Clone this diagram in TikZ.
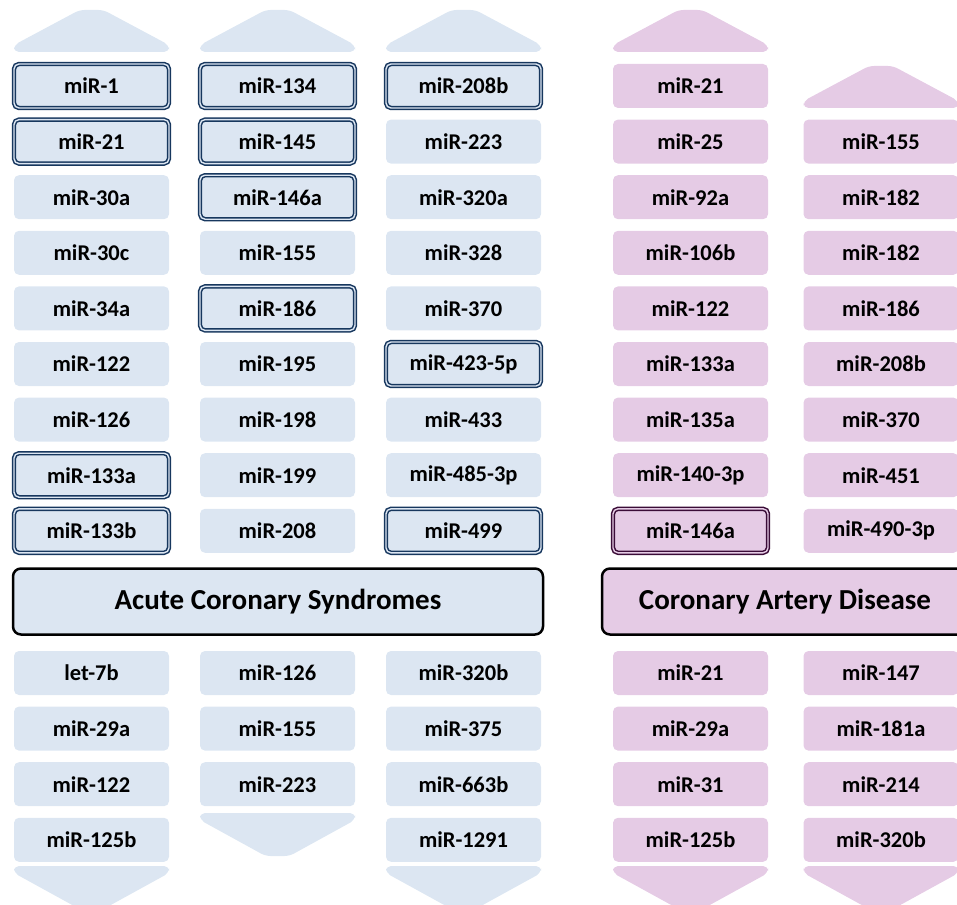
\documentclass[tikz,border=0pt]{standalone}
\usepackage{fontspec}
\setmainfont{Carlito}
\usetikzlibrary{positioning}

\definecolor{acsblue}{RGB}{220,230,242}
\definecolor{acsnavy}{RGB}{23,55,94}
\definecolor{cadpink}{RGB}{229,203,229}
\definecolor{cadplum}{RGB}{58,12,55}

\begin{document}
\begin{tikzpicture}[
    x=1pt, y=1pt,
    node distance=11.6pt, % vertical gap between miRNA boxes
    mirbox/.style={rectangle, fill=acsblue, rounded corners=5pt, minimum width=155pt, minimum height=44pt, outer sep=0pt, font=\fontsize{22.5}{26}\selectfont\bfseries},
    keybox/.style={mirbox, draw=acsnavy, line width=1.5pt, double=acsblue, double distance=1.4pt},
    cadbox/.style={mirbox, fill=cadpink},
    cadkeybox/.style={cadbox, draw=cadplum, line width=1.5pt, double=cadpink, double distance=1.4pt},
    groupbox/.style={rectangle, draw=black, line width=2.5pt, rounded corners=8pt, minimum height=66pt, outer sep=0pt, font=\fontsize{29}{34}\selectfont\bfseries},
    pics/uptip/.style={code={\fill[#1, rounded corners=5pt] (-77.5,0) -- (-77.5,7) -- (-12,42) -- (12,42) -- (77.5,7) -- (77.5,0) -- cycle;}},
    pics/downtip/.style={code={\fill[#1, rounded corners=5pt] (-77.5,0) -- (-77.5,-7) -- (-12,-43) -- (12,-43) -- (77.5,-7) -- (77.5,0) -- cycle;}}
]
\useasboundingbox (0,0) rectangle (957,-904);

% Disease groups
\node[groupbox, fill=acsblue, minimum width=530pt] (acs) at (278,-601.5) {Acute Coronary Syndromes};
\node[groupbox, fill=cadpink, minimum width=366pt] (cad) at (785,-601.5) {Coronary Artery Disease};

% ACS - upregulated, column 1
\node[keybox] (au1a) at (91.5,-86) {miR-1};
\node[keybox, below=of au1a] (au1b) {miR-21};
\node[mirbox, below=of au1b] (au1c) {miR-30a};
\node[mirbox, below=of au1c] (au1d) {miR-30c};
\node[mirbox, below=of au1d] (au1e) {miR-34a};
\node[mirbox, below=of au1e] (au1f) {miR-122};
\node[mirbox, below=of au1f] (au1g) {miR-126};
\node[keybox, below=of au1g] (au1h) {miR-133a};
\node[keybox, below=of au1h] (au1i) {miR-133b};

% ACS - upregulated, column 2
\node[keybox] (au2a) at (277.5,-86) {miR-134};
\node[keybox, below=of au2a] (au2b) {miR-145};
\node[keybox, below=of au2b] (au2c) {miR-146a};
\node[mirbox, below=of au2c] (au2d) {miR-155};
\node[keybox, below=of au2d] (au2e) {miR-186};
\node[mirbox, below=of au2e] (au2f) {miR-195};
\node[mirbox, below=of au2f] (au2g) {miR-198};
\node[mirbox, below=of au2g] (au2h) {miR-199};
\node[mirbox, below=of au2h] (au2i) {miR-208};

% ACS - upregulated, column 3
\node[keybox] (au3a) at (463.5,-86) {miR-208b};
\node[mirbox, below=of au3a] (au3b) {miR-223};
\node[mirbox, below=of au3b] (au3c) {miR-320a};
\node[mirbox, below=of au3c] (au3d) {miR-328};
\node[mirbox, below=of au3d] (au3e) {miR-370};
\node[keybox, below=of au3e] (au3f) {miR-423-5p};
\node[mirbox, below=of au3f] (au3g) {miR-433};
\node[mirbox, below=of au3g] (au3h) {miR-485-3p};
\node[keybox, below=of au3h] (au3i) {miR-499};

% ACS - downregulated
\node[mirbox] (ad1a) at (91.5,-673) {let-7b};
\node[mirbox, below=of ad1a] (ad1b) {miR-29a};
\node[mirbox, below=of ad1b] (ad1c) {miR-122};
\node[mirbox, below=of ad1c] (ad1d) {miR-125b};
\node[mirbox] (ad2a) at (277.5,-673) {miR-126};
\node[mirbox, below=of ad2a] (ad2b) {miR-155};
\node[mirbox, below=of ad2b] (ad2c) {miR-223};
\node[mirbox] (ad3a) at (463.5,-673) {miR-320b};
\node[mirbox, below=of ad3a] (ad3b) {miR-375};
\node[mirbox, below=of ad3b] (ad3c) {miR-663b};
\node[mirbox, below=of ad3c] (ad3d) {miR-1291};

% CAD - upregulated, column 4
\node[cadbox] (cu4a) at (690.5,-86) {miR-21};
\node[cadbox, below=of cu4a] (cu4b) {miR-25};
\node[cadbox, below=of cu4b] (cu4c) {miR-92a};
\node[cadbox, below=of cu4c] (cu4d) {miR-106b};
\node[cadbox, below=of cu4d] (cu4e) {miR-122};
\node[cadbox, below=of cu4e] (cu4f) {miR-133a};
\node[cadbox, below=of cu4f] (cu4g) {miR-135a};
\node[cadbox, below=of cu4g] (cu4h) {miR-140-3p};
\node[cadkeybox, below=of cu4h] (cu4i) {miR-146a};

% CAD - upregulated, column 5
\node[cadbox] (cu5b) at (881,-141.6) {miR-155};
\node[cadbox, below=of cu5b] (cu5c) {miR-182};
\node[cadbox, below=of cu5c] (cu5d) {miR-182};
\node[cadbox, below=of cu5d] (cu5e) {miR-186};
\node[cadbox, below=of cu5e] (cu5f) {miR-208b};
\node[cadbox, below=of cu5f] (cu5g) {miR-370};
\node[cadbox, below=of cu5g] (cu5h) {miR-451};
\node[cadbox, below=of cu5h] (cu5i) {miR-490-3p};

% CAD - downregulated
\node[cadbox] (cd4a) at (690.5,-673) {miR-21};
\node[cadbox, below=of cd4a] (cd4b) {miR-29a};
\node[cadbox, below=of cd4b] (cd4c) {miR-31};
\node[cadbox, below=of cd4c] (cd4d) {miR-125b};
\node[cadbox] (cd5a) at (881,-673) {miR-147};
\node[cadbox, below=of cd5a] (cd5b) {miR-181a};
\node[cadbox, below=of cd5b] (cd5c) {miR-214};
\node[cadbox, below=of cd5c] (cd5d) {miR-320b};

% Up / down arrowheads
\pic at (91.5,-52) {uptip=acsblue};
\pic at (277.5,-52) {uptip=acsblue};
\pic at (463.5,-52) {uptip=acsblue};
\pic at (690.5,-52) {uptip=cadpink};
\pic at (881,-108) {uptip=cadpink};
\pic at (91.5,-866) {downtip=acsblue};
\pic at (277.5,-813) {downtip=acsblue};
\pic at (463.5,-866) {downtip=acsblue};
\pic at (690.5,-866) {downtip=cadpink};
\pic at (881,-866) {downtip=cadpink};

\end{tikzpicture}
\end{document}
